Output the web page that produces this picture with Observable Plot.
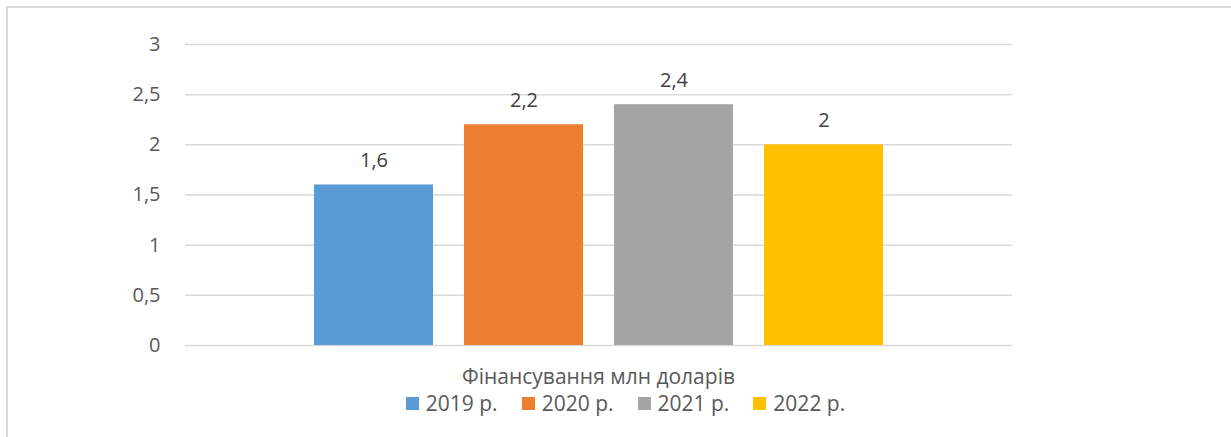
<!DOCTYPE html>
<html>
<head>
<meta charset="utf-8">
<script src="https://cdn.jsdelivr.net/npm/d3@7"></script>
<script src="https://cdn.jsdelivr.net/npm/@observablehq/plot@0.6"></script>
<style>
  html, body { margin: 0; padding: 0; background: #fff; overflow: hidden; width: 1231px; height: 437px; }
  body { position: relative; font-family: "Open Sans", "Liberation Sans", sans-serif; }
  #frame { position: absolute; left: 6px; top: 6px; width: 1300px; height: 500px; border: 2px solid #d9d9d9; box-sizing: border-box; }
  #chart { position: absolute; left: 0; top: 0; }
  #title { position: absolute; left: 0; width: 1197px; top: 362px; text-align: center; font-size: 21px; line-height: 28px; color: #595959; }
  #legend { position: absolute; left: 27px; width: 1197px; top: 389px; display: flex; justify-content: center; font-size: 21px; line-height: 28px; color: #595959; }
  .item { display: flex; align-items: center; margin: 0 12px; }
  .sw { width: 13px; height: 13px; margin-right: 7px; }
</style>
</head>
<body>
<div id="frame"></div>
<div id="chart"></div>
<div id="title"></div>
<div id="legend"></div>
<script>
const years = ["2019 р.", "2020 р.", "2021 р.", "2022 р."];
const values = [1.6, 2.2, 2.4, 2];
const colors = ["#5B9BD5", "#ED7D31", "#A5A5A5", "#FFC000"];
const yTicks = [0, 0.5, 1, 1.5, 2, 2.5, 3];
const seriesTitle = "Фінансування млн доларів";

const data = years.map((y, i) => ({year: y, value: values[i]}));
const fmt = v => String(v).replace(".", ",");

const chart = Plot.plot({
  width: 1231,
  height: 360,
  marginTop: 44,
  marginBottom: 15,
  marginLeft: 185,
  marginRight: 219,
  style: {fontFamily: "'Open Sans', 'Liberation Sans', sans-serif", fontSize: "20px", color: "#595959", background: "transparent"},
  x: {domain: years, paddingInner: 0.207, paddingOuter: 0.86, axis: null},
  y: {domain: [0, 3]},
  color: {domain: years, range: colors},
  marks: [
    Plot.ruleY(yTicks, {stroke: "#d9d9d9", strokeWidth: 1.5}),
    Plot.axisY({ticks: yTicks, tickSize: 0, tickPadding: 25, tickFormat: fmt, label: null, fill: "#595959", fontSize: 20}),
    Plot.barY(data, {x: "year", y: "value", fill: "year"}),
    Plot.text(data, {x: "year", y: "value", text: d => fmt(d.value), dy: -24, fill: "#404040", fontSize: 20})
  ]
});
document.getElementById("chart").appendChild(chart);
document.getElementById("title").textContent = seriesTitle;
const leg = document.getElementById("legend");
years.forEach((y, i) => {
  const it = document.createElement("div");
  it.className = "item";
  const sw = document.createElement("span");
  sw.className = "sw";
  sw.style.background = colors[i];
  it.appendChild(sw);
  it.appendChild(document.createTextNode(y));
  leg.appendChild(it);
});
</script>
</body>
</html>
